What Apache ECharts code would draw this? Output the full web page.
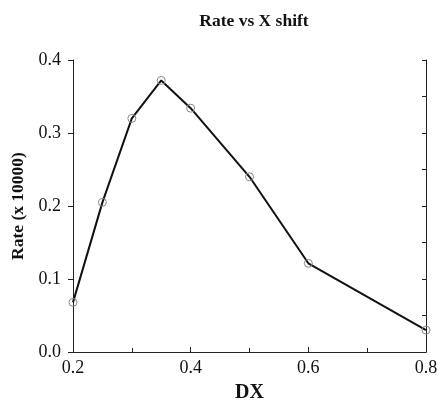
<!DOCTYPE html>
<html><head><meta charset="utf-8">
<script src="https://cdn.jsdelivr.net/npm/echarts@6/dist/echarts.min.js"></script>
<style>html,body{margin:0;padding:0;background:#fff}#c{width:437px;height:400px}</style>
</head><body><div id="c"></div>
<script>
const dx = [0.2, 0.25, 0.3, 0.35, 0.4, 0.5, 0.6, 0.8];
const rate = [0.068, 0.205, 0.32, 0.372, 0.334, 0.240, 0.1215, 0.030];
const titleText = 'Rate vs X shift';
const xName = 'DX';
const yName = 'Rate (x 10000)';

const serif = '"Liberation Serif", "DejaVu Serif", serif';
const axisLine = {show: true, lineStyle: {color: '#222', width: 1}};
const chart = echarts.init(document.getElementById('c'));
chart.setOption({
  animation: false,
  backgroundColor: '#fff',
  title: {text: titleText, left: 249, top: 7, textAlign: 'center',
    textStyle: {fontFamily: serif, fontWeight: 'bold', fontSize: 17.5, color: '#111'}},
  grid: {left: 73, right: 11, top: 60, bottom: 48, containLabel: false, outerBoundsMode: 'none'},
  xAxis: [{
    type: 'value', min: 0.2, max: 0.8, interval: 0.2, position: 'bottom',
    name: xName, nameLocation: 'middle', nameGap: 31,
    nameTextStyle: {fontFamily: serif, fontWeight: 'bold', fontSize: 20, color: '#111'},
    axisLine: axisLine,
    axisTick: {show: true, inside: true, length: 5, lineStyle: {color: '#222'}},
    minorTick: {show: true, splitNumber: 2, length: 3, lineStyle: {color: '#222'}},
    axisLabel: {fontFamily: serif, fontSize: 18, color: '#111', margin: 7,
      formatter: v => v.toFixed(1)},
    splitLine: {show: false}
  }, {
    type: 'value', min: 0.2, max: 0.8, interval: 0.1, position: 'top',
    axisLine: axisLine,
    axisTick: {show: true, inside: false, length: 4, lineStyle: {color: '#222'}},
    axisLabel: {show: false}, splitLine: {show: false}
  }],
  yAxis: [{
    type: 'value', min: 0, max: 0.4, interval: 0.1, position: 'left',
    name: yName, nameLocation: 'middle', nameGap: 44, nameRotate: 90,
    nameTextStyle: {fontFamily: serif, fontWeight: 'bold', fontSize: 17.5, color: '#111'},
    axisLine: axisLine,
    axisTick: {show: true, inside: false, length: 5, lineStyle: {color: '#222'}},
    axisLabel: {fontFamily: serif, fontSize: 18, color: '#111', margin: 12,
      formatter: v => v.toFixed(1)},
    splitLine: {show: false}
  }, {
    type: 'value', min: 0, max: 0.4, interval: 0.05, position: 'right',
    axisLine: axisLine,
    axisTick: {show: true, inside: true, length: 4, lineStyle: {color: '#222'}},
    axisLabel: {show: false}, splitLine: {show: false}
  }],
  series: [{
    type: 'line', xAxisIndex: 0, yAxisIndex: 0,
    data: dx.map((x, i) => [x, rate[i]]),
    lineStyle: {color: '#111', width: 2},
    symbol: 'circle', symbolSize: 8, showAllSymbol: true,
    itemStyle: {color: 'transparent', borderColor: '#888', borderWidth: 1},
    z: 3
  }]
});
</script></body></html>
